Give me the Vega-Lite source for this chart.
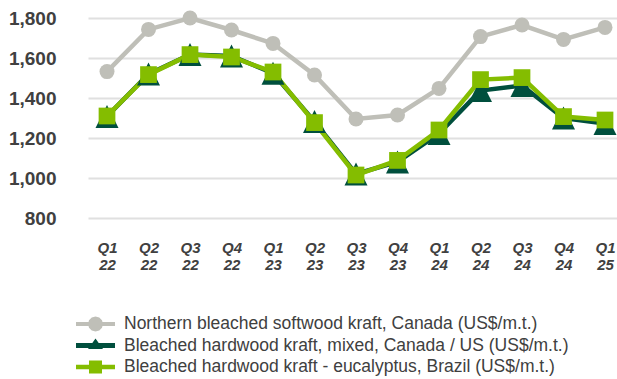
{
  "$schema": "https://vega.github.io/schema/vega-lite/v6.json",
  "width": 529,
  "height": 200,
  "autosize": "none",
  "padding": {"left": 88, "top": 18, "right": 0, "bottom": 161},
  "background": "white",
  "config": {"view": {"stroke": null}, "font": "Liberation Sans"},
  "data": {
    "values": [
      {"s": "Northern bleached softwood kraft, Canada (US$/m.t.)", "q": "Q1 22", "v": 1532},
      {"s": "Northern bleached softwood kraft, Canada (US$/m.t.)", "q": "Q2 22", "v": 1743},
      {"s": "Northern bleached softwood kraft, Canada (US$/m.t.)", "q": "Q3 22", "v": 1800},
      {"s": "Northern bleached softwood kraft, Canada (US$/m.t.)", "q": "Q4 22", "v": 1740},
      {"s": "Northern bleached softwood kraft, Canada (US$/m.t.)", "q": "Q1 23", "v": 1673},
      {"s": "Northern bleached softwood kraft, Canada (US$/m.t.)", "q": "Q2 23", "v": 1515},
      {"s": "Northern bleached softwood kraft, Canada (US$/m.t.)", "q": "Q3 23", "v": 1295},
      {"s": "Northern bleached softwood kraft, Canada (US$/m.t.)", "q": "Q4 23", "v": 1315},
      {"s": "Northern bleached softwood kraft, Canada (US$/m.t.)", "q": "Q1 24", "v": 1448},
      {"s": "Northern bleached softwood kraft, Canada (US$/m.t.)", "q": "Q2 24", "v": 1707},
      {"s": "Northern bleached softwood kraft, Canada (US$/m.t.)", "q": "Q3 24", "v": 1765},
      {"s": "Northern bleached softwood kraft, Canada (US$/m.t.)", "q": "Q4 24", "v": 1693},
      {"s": "Northern bleached softwood kraft, Canada (US$/m.t.)", "q": "Q1 25", "v": 1753},
      {"s": "Bleached hardwood kraft, mixed, Canada / US (US$/m.t.)", "q": "Q1 22", "v": 1308},
      {"s": "Bleached hardwood kraft, mixed, Canada / US (US$/m.t.)", "q": "Q2 22", "v": 1520},
      {"s": "Bleached hardwood kraft, mixed, Canada / US (US$/m.t.)", "q": "Q3 22", "v": 1617},
      {"s": "Bleached hardwood kraft, mixed, Canada / US (US$/m.t.)", "q": "Q4 22", "v": 1610},
      {"s": "Bleached hardwood kraft, mixed, Canada / US (US$/m.t.)", "q": "Q1 23", "v": 1524},
      {"s": "Bleached hardwood kraft, mixed, Canada / US (US$/m.t.)", "q": "Q2 23", "v": 1282},
      {"s": "Bleached hardwood kraft, mixed, Canada / US (US$/m.t.)", "q": "Q3 23", "v": 1020},
      {"s": "Bleached hardwood kraft, mixed, Canada / US (US$/m.t.)", "q": "Q4 23", "v": 1080},
      {"s": "Bleached hardwood kraft, mixed, Canada / US (US$/m.t.)", "q": "Q1 24", "v": 1222},
      {"s": "Bleached hardwood kraft, mixed, Canada / US (US$/m.t.)", "q": "Q2 24", "v": 1437},
      {"s": "Bleached hardwood kraft, mixed, Canada / US (US$/m.t.)", "q": "Q3 24", "v": 1462},
      {"s": "Bleached hardwood kraft, mixed, Canada / US (US$/m.t.)", "q": "Q4 24", "v": 1300},
      {"s": "Bleached hardwood kraft, mixed, Canada / US (US$/m.t.)", "q": "Q1 25", "v": 1272},
      {"s": "Bleached hardwood kraft - eucalyptus, Brazil (US$/m.t.)", "q": "Q1 22", "v": 1310},
      {"s": "Bleached hardwood kraft - eucalyptus, Brazil (US$/m.t.)", "q": "Q2 22", "v": 1517},
      {"s": "Bleached hardwood kraft - eucalyptus, Brazil (US$/m.t.)", "q": "Q3 22", "v": 1617},
      {"s": "Bleached hardwood kraft - eucalyptus, Brazil (US$/m.t.)", "q": "Q4 22", "v": 1605},
      {"s": "Bleached hardwood kraft - eucalyptus, Brazil (US$/m.t.)", "q": "Q1 23", "v": 1530},
      {"s": "Bleached hardwood kraft - eucalyptus, Brazil (US$/m.t.)", "q": "Q2 23", "v": 1277},
      {"s": "Bleached hardwood kraft - eucalyptus, Brazil (US$/m.t.)", "q": "Q3 23", "v": 1015},
      {"s": "Bleached hardwood kraft - eucalyptus, Brazil (US$/m.t.)", "q": "Q4 23", "v": 1088},
      {"s": "Bleached hardwood kraft - eucalyptus, Brazil (US$/m.t.)", "q": "Q1 24", "v": 1240},
      {"s": "Bleached hardwood kraft - eucalyptus, Brazil (US$/m.t.)", "q": "Q2 24", "v": 1492},
      {"s": "Bleached hardwood kraft - eucalyptus, Brazil (US$/m.t.)", "q": "Q3 24", "v": 1502},
      {"s": "Bleached hardwood kraft - eucalyptus, Brazil (US$/m.t.)", "q": "Q4 24", "v": 1307},
      {"s": "Bleached hardwood kraft - eucalyptus, Brazil (US$/m.t.)", "q": "Q1 25", "v": 1290}
    ]
  },
  "encoding": {
    "x": {
      "field": "q",
      "type": "ordinal",
      "sort": null,
      "scale": {"type": "point", "padding": 0.3735, "align": 0.613},
      "axis": {
        "title": null,
        "labelAngle": 0,
        "labelExpr": "split(datum.label, ' ')",
        "labelFont": "'Liberation Sans Narrow', 'Liberation Sans'",
        "labelFontSize": 15,
        "labelFontWeight": "bold",
        "labelFontStyle": "italic",
        "labelColor": "#404040",
        "labelLineHeight": 17,
        "labelPadding": 22,
        "ticks": false,
        "domain": false,
        "grid": false
      }
    },
    "y": {
      "field": "v",
      "type": "quantitative",
      "scale": {"domain": [800, 1800], "nice": false, "zero": false},
      "axis": {
        "title": null,
        "values": [800, 1000, 1200, 1400, 1600, 1800],
        "format": ",d",
        "labelFont": "'Liberation Sans Narrow', 'Liberation Sans'",
        "labelFontSize": 19,
        "labelFontWeight": "bold",
        "labelColor": "#404040",
        "labelPadding": 32,
        "ticks": false,
        "domain": false,
        "grid": true,
        "gridColor": "#e0e0e0",
        "gridWidth": 2
      }
    },
    "color": {
      "field": "s",
      "type": "nominal",
      "scale": {
        "domain": [
          "Northern bleached softwood kraft, Canada (US$/m.t.)",
          "Bleached hardwood kraft, mixed, Canada / US (US$/m.t.)",
          "Bleached hardwood kraft - eucalyptus, Brazil (US$/m.t.)"
        ],
        "range": ["#bfbfb8", "#004f3d", "#84bd00"]
      },
      "legend": {
        "title": null,
        "orient": "none",
        "legendX": -2.5,
        "legendY": 296,
        "padding": 0,
        "symbolSize": 400,
        "symbolStrokeWidth": 0,
        "symbolOpacity": 1,
        "labelFont": "Liberation Sans",
        "labelFontSize": 17.5,
        "labelColor": "#404040",
        "labelLimit": 700,
        "labelOffset": 18.5,
        "rowPadding": 2.5,
        "encode": {
          "symbols": {
            "update": {
              "shape": {"signal": "indexof(datum.value, 'Northern') === 0 ? 'M-1.95,-0.2L1.95,-0.2L1.95,0.2L-1.95,0.2ZM0.75,0L0.65,0.375L0.375,0.65L0,0.75L-0.375,0.65L-0.65,0.375L-0.75,0L-0.65,-0.375L-0.375,-0.65L0,-0.75L0.375,-0.65L0.65,-0.375Z' : indexof(datum.value, 'mixed') >= 0 ? 'M-1.95,-0.25L1.95,-0.25L1.95,0.25L-1.95,0.25ZM0,-0.7L0.75,0.35L-0.75,0.35Z' : 'M-1.95,-0.22L1.95,-0.22L1.95,0.22L-1.95,0.22ZM-0.65,-0.65L0.65,-0.65L0.65,0.65L-0.65,0.65Z'"},
              "fill": {"scale": "color", "field": "value"},
              "strokeWidth": {"value": 0},
              "opacity": {"value": 1}
            }
          }
        }
      }
    }
  },
  "layer": [
    {"mark": {"type": "line", "strokeWidth": 4.5}},
    {
      "transform": [{"filter": "indexof(datum.s, 'Northern') === 0"}],
      "mark": {"type": "point", "filled": true, "opacity": 1, "shape": "circle", "size": 225}
    },
    {
      "transform": [{"filter": "indexof(datum.s, 'mixed') >= 0"}],
      "mark": {"type": "point", "filled": true, "opacity": 1, "shape": "M0,-1L1,1L-1,1Z", "size": 529}
    },
    {
      "transform": [{"filter": "indexof(datum.s, 'eucalyptus') >= 0"}],
      "mark": {"type": "point", "filled": true, "opacity": 1, "shape": "square", "size": 280}
    }
  ]
}
